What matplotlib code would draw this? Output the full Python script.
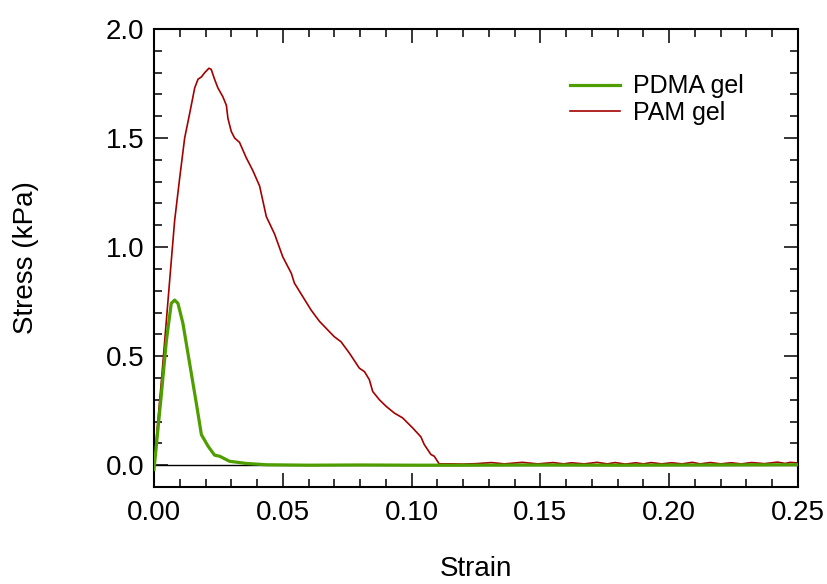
#!/usr/bin/env python3

import matplotlib
matplotlib.use("Agg")
import matplotlib.pyplot as plt
from matplotlib.ticker import MultipleLocator

# PAM gel (red) : strain / stress (kPa)
pam_strain = [0.0, 0.0029, 0.0061, 0.0080, 0.0100, 0.0119, 0.0138, 0.0158, 0.0171,
              0.0184, 0.0197, 0.0213, 0.0222, 0.0235, 0.0248, 0.0267, 0.0281, 0.0287,
              0.0300, 0.0313, 0.0332, 0.0358, 0.0384, 0.0410, 0.0436, 0.0468, 0.0500,
              0.0533, 0.0545, 0.0578, 0.0610, 0.0642, 0.0681, 0.0700, 0.0726, 0.0759,
              0.0797, 0.0817, 0.0836, 0.0849, 0.0875, 0.0901, 0.0933, 0.0965, 0.1004,
              0.1036, 0.1049, 0.1075, 0.1088, 0.1107,
              0.115, 0.120, 0.125, 0.131, 0.136, 0.143, 0.149, 0.155, 0.159, 0.162,
              0.167, 0.172, 0.176, 0.179, 0.183, 0.187, 0.190, 0.193, 0.197, 0.201,
              0.205, 0.209, 0.212, 0.216, 0.220, 0.224, 0.228, 0.232, 0.237, 0.242,
              0.245, 0.247, 0.250]
pam_stress = [0.0, 0.39, 0.85, 1.12, 1.32, 1.50, 1.61, 1.73, 1.77,
              1.78, 1.80, 1.82, 1.815, 1.77, 1.73, 1.69, 1.65, 1.59,
              1.53, 1.50, 1.48, 1.41, 1.35, 1.28, 1.14, 1.06, 0.955,
              0.88, 0.835, 0.772, 0.711, 0.66, 0.612, 0.589, 0.566, 0.513,
              0.445, 0.429, 0.392, 0.338, 0.300, 0.270, 0.239, 0.217, 0.171,
              0.130, 0.095, 0.049, 0.041, 0.006,
              0.006, 0.005, 0.007, 0.012, 0.006, 0.013, 0.006, 0.012, 0.006, 0.011,
              0.006, 0.013, 0.006, 0.012, 0.005, 0.011, 0.006, 0.012, 0.006, 0.011,
              0.006, 0.013, 0.006, 0.012, 0.006, 0.011, 0.006, 0.012, 0.007, 0.014,
              0.008, 0.013, 0.010]

# PDMA gel (green)
pdma_strain = [0.0, 0.0029, 0.0048, 0.0067, 0.0080, 0.0093, 0.0112, 0.0138, 0.0164,
               0.0184, 0.0210, 0.0235, 0.0255, 0.0293, 0.0358, 0.0436, 0.060, 0.080,
               0.100, 0.120, 0.150, 0.180, 0.210, 0.250]
pdma_stress = [-0.02, 0.33, 0.57, 0.742, 0.757, 0.742, 0.652, 0.469, 0.286,
               0.14, 0.087, 0.046, 0.041, 0.018, 0.008, 0.002, 0.0, 0.001,
               0.0, 0.0, 0.001, 0.0, 0.001, 0.002]

plt.rcParams['font.family'] = ['Liberation Sans', 'DejaVu Sans']

fig = plt.figure(figsize=(8.28, 5.84), dpi=100)
ax = fig.add_axes([154 / 828, 1 - 487 / 584, (798 - 154) / 828, (487 - 29) / 584])

ax.axhline(0, color='black', lw=1.0, zorder=1)
ax.plot(pdma_strain, pdma_stress, color='#4f9e00', lw=2.3, label='PDMA gel', zorder=3)
ax.plot(pam_strain, pam_stress, color='#a30000', lw=1.2, label='PAM gel', zorder=2)

ax.set_xlim(0, 0.25)
ax.set_ylim(-0.1, 2.0)
ax.xaxis.set_major_locator(MultipleLocator(0.05))
ax.xaxis.set_minor_locator(MultipleLocator(0.01))
ax.yaxis.set_major_locator(MultipleLocator(0.5))
ax.yaxis.set_minor_locator(MultipleLocator(0.1))
ax.xaxis.set_major_formatter(plt.FormatStrFormatter('%.2f'))
ax.yaxis.set_major_formatter(plt.FormatStrFormatter('%.1f'))

ax.tick_params(which='both', direction='in', top=True, right=True, width=1.1)
ax.tick_params(which='major', length=10, labelsize=20)
ax.tick_params(axis='x', which='major', pad=9)
ax.tick_params(axis='y', which='major', pad=7)
ax.tick_params(which='minor', length=6)
for sp in ax.spines.values():
    sp.set_linewidth(1.5)

ax.set_xlabel('Strain', fontsize=20, labelpad=22)
ax.set_ylabel('Stress (kPa)', fontsize=20, labelpad=48)

ax.legend(loc='upper right', frameon=False, fontsize=18, handlelength=2.0,
          handletextpad=0.5, labelspacing=0.1, bbox_to_anchor=(0.95, 0.95))

fig.savefig('out.png', dpi=100)
